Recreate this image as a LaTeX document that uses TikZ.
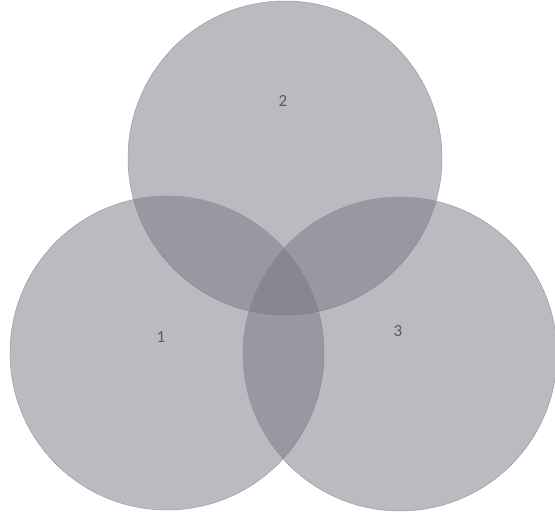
\documentclass[tikz,border=0pt]{standalone}
\usepackage{fontspec}
\setmainfont{Carlito}
\usepackage{xcolor}
\usepackage{tikz}
\usetikzlibrary{positioning}

\definecolor{setgray}{RGB}{118,118,132}
\definecolor{labelgray}{RGB}{90,90,100}

\begin{document}
\begin{tikzpicture}[
  x=1pt, y=-1pt,
  setcircle/.style={circle, minimum size=314pt, inner sep=0pt,
                    fill=setgray, fill opacity=0.5, draw=setgray!80, thin},
  setlabel/.style={font=\fontsize{17}{19}\selectfont, text=labelgray}
]
\useasboundingbox (0,0) rectangle (555,514);
\clip (0,0) rectangle (555,514);

% the three sets
\node[setcircle] (two)   at (285,158) {};
\node[setcircle] (one)   at (167,353) {};
\node[setcircle] (three) at (400,354) {};

% set numbers
\node[setlabel] (lab2) at (283,101) {2};
\node[setlabel] (lab1) at (161,337) {1};
\node[setlabel] (lab3) at (398,331) {3};

\end{tikzpicture}
\end{document}
